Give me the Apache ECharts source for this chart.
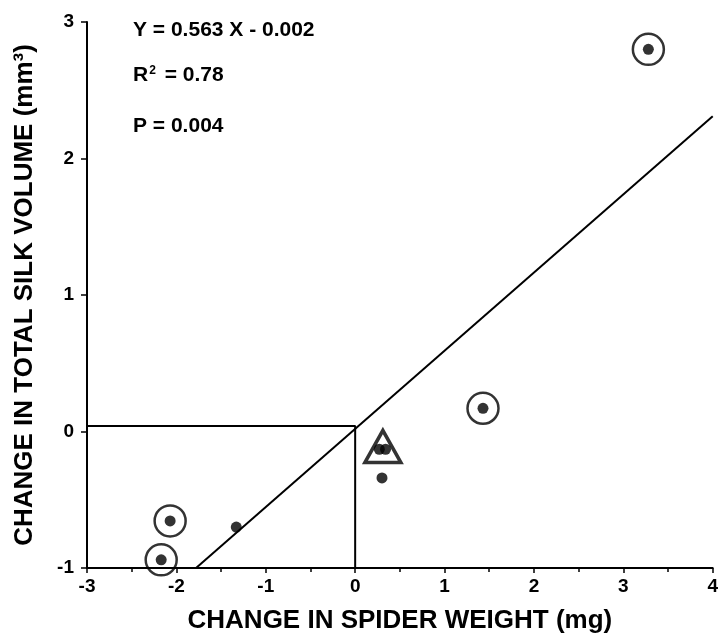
<!DOCTYPE html>
<html><head><meta charset="utf-8">
<script src="https://cdn.jsdelivr.net/npm/echarts@6/dist/echarts.min.js"></script>
<style>html,body{margin:0;padding:0;background:#fff}#c{width:721px;height:639px}</style>
</head><body><div id="c"></div>
<script>
// Data
const dots = [[3.28, 2.80], [1.43, 0.17], [0.27, -0.13], [0.34, -0.13], [0.30, -0.34], [-1.33, -0.70], [-2.07, -0.655], [-2.17, -0.94]];
const circled = [[3.28, 2.80], [1.43, 0.17], [-2.07, -0.655], [-2.17, -0.94]];
const triangle = [[0.31, -0.11]];
const fitLine = [[-1.78, -1], [4, 2.31]];
const refLine = [[-3, 0.04], [0, 0.04], [0, -1]];
const xTicks = [-3, -2, -1, 0, 1, 2, 3, 4];
const yTicks = [-1, 0, 1, 2, 3];

const F = '"Liberation Sans", Arial, sans-serif';
const chart = echarts.init(document.getElementById('c'));
chart.setOption({
  animation: false,
  backgroundColor: '#fff',
  grid: { left: 87, top: 22, right: 4, bottom: 67 },
  xAxis: {
    type: 'value', min: xTicks[0], max: xTicks[xTicks.length - 1], interval: 1,
    axisLine: { onZero: false, lineStyle: { color: '#000', width: 2 } },
    axisTick: { length: 5, lineStyle: { color: '#000', width: 1.5 } },
    minorTick: { show: true, splitNumber: 2, length: 4, lineStyle: { color: '#000', width: 1.5 } },
    splitLine: { show: false },
    axisLabel: { color: '#000', fontFamily: F, fontWeight: 'bold', fontSize: 19, margin: 9 },
    name: 'CHANGE IN SPIDER WEIGHT (mg)', nameLocation: 'middle', nameGap: 40,
    nameTextStyle: { color: '#000', fontFamily: F, fontWeight: 'bold', fontSize: 26 }
  },
  yAxis: {
    type: 'value', min: yTicks[0], max: yTicks[yTicks.length - 1], interval: 1,
    axisLine: { onZero: false, lineStyle: { color: '#000', width: 2 } },
    axisTick: { length: 6, lineStyle: { color: '#000', width: 1.5 } },
    splitLine: { show: false },
    axisLabel: { color: '#000', fontFamily: F, fontWeight: 'bold', fontSize: 19, margin: 13 },
    name: 'CHANGE IN TOTAL SILK VOLUME (mm³)', nameLocation: 'middle', nameGap: 49,
    nameTextStyle: { color: '#000', fontFamily: F, fontWeight: 'bold', fontSize: 26 }
  },
  title: [
    { text: 'Y = 0.563 X - 0.002', left: 128, top: 15, textStyle: { color: '#000', fontFamily: F, fontWeight: 'bold', fontSize: 21 } },
    { text: '{a|R}{s|2}{a| = 0.78}', left: 128, top: 60, textStyle: { rich: {
        a: { color: '#000', fontFamily: F, fontWeight: 'bold', fontSize: 21, verticalAlign: 'bottom' },
        s: { color: '#000', fontFamily: F, fontWeight: 'bold', fontSize: 12, verticalAlign: 'top', padding: [0, 3, 0, 1] } } } },
    { text: 'P = 0.004', left: 128, top: 111, textStyle: { color: '#000', fontFamily: F, fontWeight: 'bold', fontSize: 21 } }
  ],
  series: [
    { type: 'line', data: refLine, symbol: 'none', lineStyle: { color: '#000', width: 2 }, z: 2 },
    { type: 'line', data: fitLine, symbol: 'none', lineStyle: { color: '#000', width: 2 }, z: 2 },
    { type: 'scatter', data: circled, symbol: 'circle', symbolSize: 31,
      itemStyle: { color: 'rgba(255,255,255,0)', borderColor: '#000', borderWidth: 2.5 }, z: 3 },
    { type: 'scatter', data: triangle, symbol: 'triangle', symbolSize: [36, 32],
      itemStyle: { color: '#fff', borderColor: '#000', borderWidth: 3.5 }, z: 3 },
    { type: 'scatter', data: dots, symbol: 'circle', symbolSize: 11,
      itemStyle: { color: '#000' }, z: 4 }
  ]
});
</script></body></html>
